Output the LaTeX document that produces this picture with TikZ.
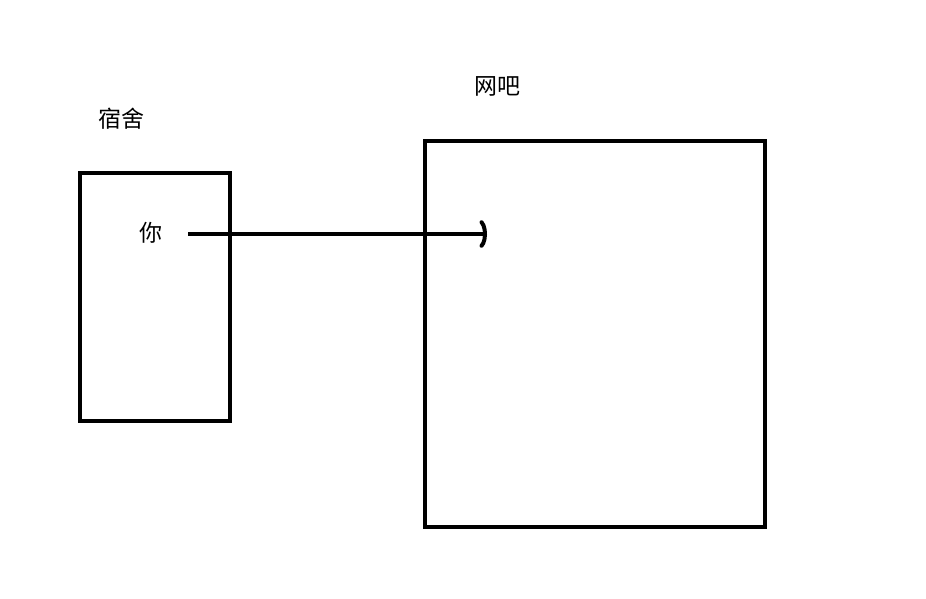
\documentclass[tikz,border=0pt]{standalone}
\usepackage{fontspec}
\newfontfamily\cjk{Noto Sans CJK SC}
\usetikzlibrary{arrows.meta}
\tikzset{
  room/.style={draw=black, line width=4pt},
  label/.style={font=\cjk\fontsize{23}{26}\selectfont, inner sep=0pt, anchor=center},
  go/.style={line width=4pt, -{Arc Barb[arc=130, length=8pt, width=30pt, line cap=round]}}
}
\begin{document}
\begin{tikzpicture}[x=1pt, y=-1pt]
\useasboundingbox[fill=white] (0,0) rectangle (926,599);
\node[room, minimum width=150pt, minimum height=248pt, inner sep=0pt] (dorm) at (155,297) {};
\node[room, minimum width=340pt, minimum height=386pt, inner sep=0pt] (cafe) at (595,334) {};
\node[label] (dormlbl) at (121,119) {宿舍};
\node[label] (cafelbl) at (497,86) {网吧};
\node[label] (you) at (151,233) {你};
\coordinate (start) at (188,234);
\coordinate (dest) at (487,234);
\draw[go] (start) -- (dest);
\end{tikzpicture}
\end{document}
